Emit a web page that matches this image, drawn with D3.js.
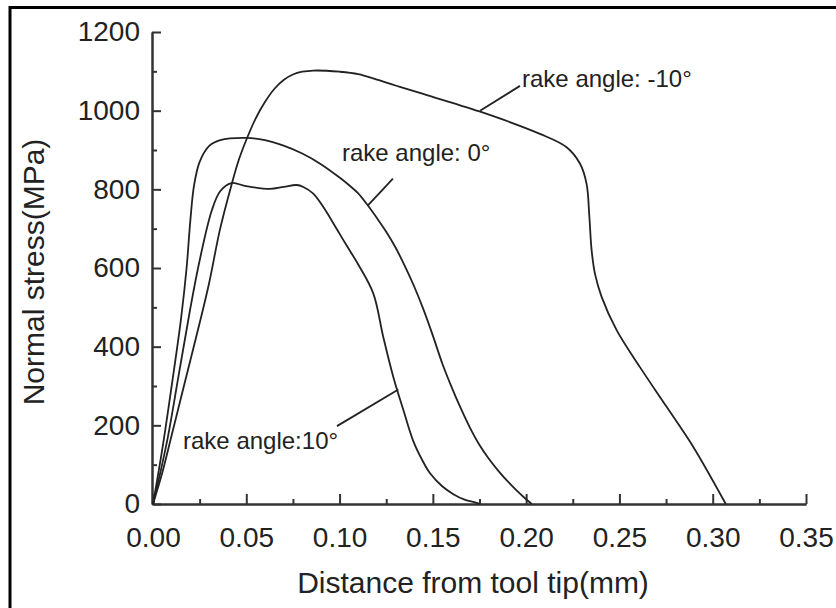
<!DOCTYPE html>
<html>
<head>
<meta charset="utf-8">
<script src="https://cdn.jsdelivr.net/npm/d3@7/dist/d3.min.js"></script>
<style>
  body { margin: 0; background: #fff; }
  svg { display: block; }
  text { font-family: "Liberation Sans", Arial, Helvetica, sans-serif; fill: #222; }
</style>
</head>
<body>
<script>
// distance from tool tip (mm), normal stress (MPa)
var rakeNeg10 = [[0,0],[0.005,80],[0.01,175],[0.015,270],[0.02,365],[0.025,460],[0.03,560],[0.036,700],
  [0.042,810],[0.046,875],[0.0502,928],[0.055,980],[0.06,1022],[0.065,1055],[0.07,1078],[0.075,1092],
  [0.08,1099],[0.086,1102],[0.1,1099],[0.11,1093],[0.12,1079],[0.13,1064],[0.143,1045],[0.175,998],
  [0.2074,941],[0.2217,907],[0.2289,865],[0.2324,814],[0.2339,729],[0.2351,645],[0.2369,585],
  [0.2405,526],[0.2485,442],[0.261,348],[0.2753,247],[0.2896,145],[0.307,0]];
var rake0 = [[0,0],[0.005,140],[0.01,300],[0.015,470],[0.018,600],[0.02,720],[0.022,810],[0.025,870],
  [0.03,910],[0.036,925],[0.05,931],[0.06,925],[0.07,911],[0.08,891],[0.09,864],[0.1,830],[0.105,811],
  [0.11,790],[0.115,760],[0.12,727],[0.125,692],[0.13,652],[0.135,605],[0.14,553],[0.145,494],
  [0.15,428],[0.155,358],[0.16,298],[0.165,243],[0.17,193],[0.175,150],[0.18,115],[0.185,85],
  [0.19,58],[0.195,34],[0.2,12],[0.203,0]];
var rake10 = [[0,0],[0.0073,154],[0.0136,323],[0.0198,492],[0.025,619],[0.0315,746],[0.036,795],
  [0.042,816],[0.05,808],[0.0627,801],[0.07,806],[0.077,811],[0.0806,806],[0.0859,789],[0.0913,755],
  [0.0985,699],[0.1038,657],[0.11,609],[0.1181,535],[0.1234,425],[0.1288,323],[0.1342,239],
  [0.1395,160],[0.1445,110],[0.1485,78],[0.155,45],[0.161,25],[0.167,11],[0.1735,3],[0.175,0]];

var xTicks = [0, 0.05, 0.1, 0.15, 0.2, 0.25, 0.3, 0.35];
var xMinor = [0.025, 0.075, 0.125, 0.175, 0.225, 0.275, 0.325];
var yTicks = [0, 200, 400, 600, 800, 1000, 1200];
var yMinor = [100, 300, 500, 700, 900, 1100];

// label text, anchor point (data units), leader line from curve to label (data units)
var labels = ["rake angle: -10\u00b0", "rake angle: 0\u00b0", "rake angle:10\u00b0"];
var labelPos = [[0.1978, 1061], [0.1013, 871], [0.0161, 140]];
var leaders = [[[0.1753, 1000], [0.1967, 1063]], [[0.1152, 759], [0.1286, 827]], [[0.1315, 291], [0.0986, 198]]];

var width = 836, height = 608;

var svg = d3.select('body').append('svg').attr('width', width).attr('height', height);

// frame left over from the scanned figure
svg.append('path')
  .attr('d', 'M10,608V7.5H836')
  .attr('fill', 'none').attr('stroke', '#000').attr('stroke-width', 3);

var x = d3.scaleLinear().domain([0, 0.35]).range([153, 806]);
var y = d3.scaleLinear().domain([0, 1200]).range([504, 32]);

// x axis, ticks point inward
var gx = svg.append('g').attr('transform', 'translate(0,504)');
gx.call(d3.axisBottom(x).tickValues(xMinor).tickSize(-5).tickSizeOuter(0).tickFormat(''));
gx.append('g').call(d3.axisBottom(x).tickValues(xTicks).tickSize(-10).tickSizeOuter(0).tickPadding(23)
  .tickFormat(d3.format('.2f')));

// y axis
var gy = svg.append('g').attr('transform', 'translate(152,0)');
gy.call(d3.axisLeft(y).tickValues(yMinor).tickSize(-5).tickSizeOuter(0).tickFormat(''));
gy.append('g').call(d3.axisLeft(y).tickValues(yTicks).tickSize(-9).tickSizeOuter(0).tickPadding(12)
  .tickFormat(d3.format('d')));

svg.selectAll('.domain, .tick line').attr('stroke', '#333').attr('stroke-width', 2);
svg.selectAll('.tick text').style('font-size', '28px').attr('fill', '#222')
  .style('font-family', '"Liberation Sans", Arial, sans-serif');

// axis titles
svg.append('text')
  .attr('x', 473).attr('y', 593)
  .attr('text-anchor', 'middle')
  .style('font-size', '30px')
  .text('Distance from tool tip(mm)');

svg.append('text')
  .attr('transform', 'translate(44,272) rotate(-90)')
  .attr('text-anchor', 'middle')
  .style('font-size', '30px')
  .text('Normal stress(MPa)');

// curves
var line = d3.line()
  .x(function (d) { return x(d[0]); })
  .y(function (d) { return y(d[1]); })
  .curve(d3.curveCatmullRom.alpha(0.5));

svg.selectAll('path.curve')
  .data([rakeNeg10, rake0, rake10])
  .enter()
  .append('path')
  .attr('class', 'curve')
  .attr('d', line)
  .attr('fill', 'none')
  .attr('stroke', '#222')
  .attr('stroke-width', 1.8);

// leader lines and labels
svg.selectAll('line.leader')
  .data(leaders)
  .enter()
  .append('line')
  .attr('class', 'leader')
  .attr('x1', function (d) { return x(d[0][0]); })
  .attr('y1', function (d) { return y(d[0][1]); })
  .attr('x2', function (d) { return x(d[1][0]); })
  .attr('y2', function (d) { return y(d[1][1]); })
  .attr('stroke', '#222')
  .attr('stroke-width', 1.8);

svg.selectAll('text.label')
  .data(labels)
  .enter()
  .append('text')
  .attr('class', 'label')
  .attr('x', function (d, i) { return x(labelPos[i][0]); })
  .attr('y', function (d, i) { return y(labelPos[i][1]); })
  .style('font-size', '24px')
  .text(function (d) { return d; });
</script>
</body>
</html>
